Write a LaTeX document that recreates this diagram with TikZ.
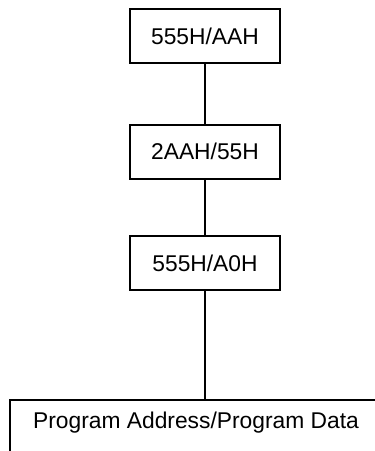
\documentclass[tikz,border=0pt]{standalone}
\usepackage{fontspec}
\setmainfont{Liberation Sans}
\usetikzlibrary{positioning}

\tikzset{
  cmdbox/.style={draw, line width=1pt, minimum width=75pt, minimum height=27pt, inner sep=0pt, font=\fontsize{11.4}{13}\selectfont},
  link/.style={line width=0.85pt}
}

\begin{document}
\begin{tikzpicture}[x=0.5pt, y=-0.5pt]
  \useasboundingbox (0,0) rectangle (375,451);
  % command cycles
  \node[cmdbox] (first) at (205,36) {555H/AAH};
  \node[cmdbox] (second) at (205,151.5) {2AAH/55H};
  \node[cmdbox] (third) at (205,263) {555H/A0H};
  % last cycle, open box
  \coordinate (corner) at (10,400);
  \coordinate (tip) at (205,400);
  \draw[line width=1pt] (10,451) -- (corner) -- (375,400);
  \node[font=\fontsize{11.4}{13}\selectfont] (data) at (196,423) {Program Address/Program Data};
  \draw[link] (first) -- (second);
  \draw[link] (second) -- (third);
  \draw[link] (third) -- (tip);
\end{tikzpicture}
\end{document}
